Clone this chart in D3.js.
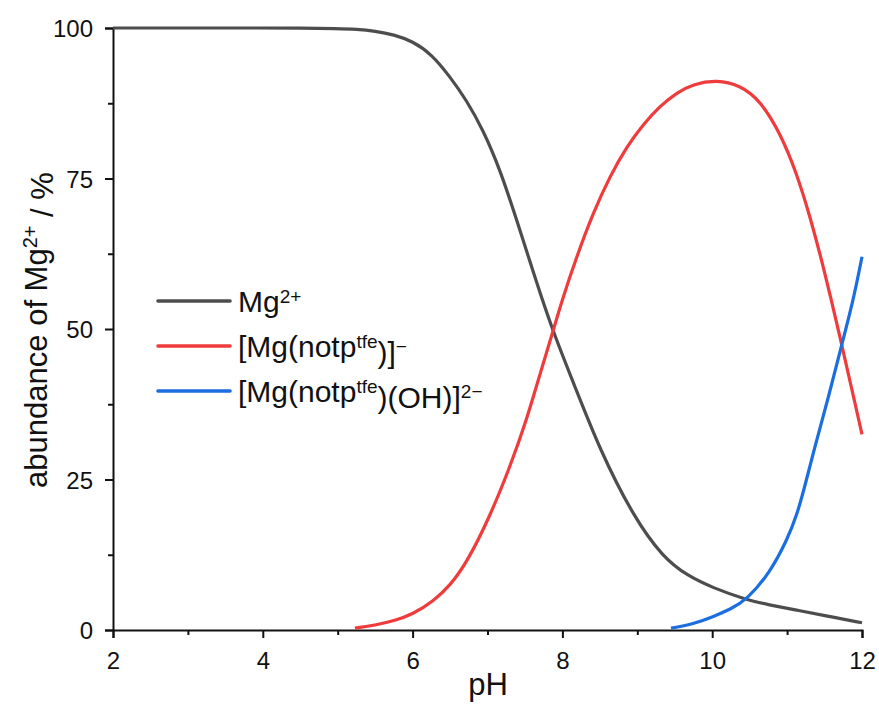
<!DOCTYPE html>
<html><head><meta charset="utf-8">
<script src="https://cdn.jsdelivr.net/npm/d3@7"></script>
<style>body{margin:0;background:#fff}svg{display:block}text{font-family:"Liberation Sans",Arial,sans-serif;fill:#111}</style>
</head><body><svg id="c" width="879" height="727"></svg>
<script>
const xTicks = [2,4,6,8,10,12];
const yTicks = [0,25,50,75,100];
const mgPH  = [2,3,4,4.5,5,5.25,5.5,5.75,6,6.25,6.5,6.72,6.94,7.17,7.39,7.61,7.86,8.15,8.5,8.95,9.34,9.67,10.01,10.46,10.75,11.13,11.5,12];
const mgVal = [100,100,100,100,99.9,99.8,99.5,98.9,97.8,95.7,91.9,88.0,83.1,76.4,68.1,59.5,50,41.0,29.9,18.8,12.1,9.0,7.0,5.0,4.2,3.3,2.4,1.2];
const mlPH  = [5.23,5.5,5.75,6.0,6.28,6.5,6.72,7.03,7.30,7.52,7.70,7.86,8.0,8.19,8.41,8.64,8.86,9.08,9.30,9.53,9.75,10.06,10.37,10.64,10.91,11.13,11.31,11.48,11.71,11.84,12];
const mlVal = [0.3,0.8,1.5,2.6,4.8,7.4,11.1,18.8,27.1,34.8,42.5,49,55,62,69.3,75.5,80.3,84.0,87.0,89.3,90.7,91.4,90.5,88.0,82.5,75.8,68.5,60.6,48.5,41.3,32.5];
const mohPH  = [9.45,9.75,10.01,10.25,10.46,10.77,11.0,11.13,11.25,11.35,11.57,11.71,11.88,12];
const mohVal = [0.3,1.0,2.2,3.5,5.0,9.5,15,19,24.5,29.5,39.5,46.5,54.5,62];
const colors = ["#4d4d4d","#ef3b3b","#1b6ee0"];

const svg = d3.select("#c");
const x = d3.scaleLinear().domain([2,12]).range([113,862]);
const y = d3.scaleLinear().domain([0,100]).range([630,28]);

// axes
const xAxis = d3.axisBottom(x).tickValues(d3.range(2,12.01,1)).tickSize(8).tickFormat(d=>xTicks.includes(d)?d:"");
const gx = svg.append("g").attr("transform","translate(0,630)").call(xAxis);
gx.selectAll(".tick line").attr("y2",d=>xTicks.includes(d)?8:5);
const yAxis = d3.axisLeft(y).tickValues(d3.range(0,100.01,12.5)).tickSize(8).tickFormat(d=>yTicks.includes(d)?d:"");
const gy = svg.append("g").attr("transform","translate(113,0)").call(yAxis);
gy.selectAll(".tick line").attr("x2",d=>yTicks.includes(d)?-8:-5);
[gx,gy].forEach(g=>{
  g.select(".domain").attr("stroke","#111").attr("stroke-width",2);
  g.selectAll(".tick line").attr("stroke","#111").attr("stroke-width",2);
  g.selectAll(".tick text").style("font-size","24px").attr("fill","#111");
});
gx.selectAll(".tick text").attr("y",0).attr("dy",0).attr("transform","translate(0,39)");
gy.selectAll(".tick text").attr("x",-20).attr("dy","0.36em");

svg.append("text").attr("x",488).attr("y",695).attr("text-anchor","middle").style("font-size","31px").text("pH");
const yt = svg.append("text").attr("transform","translate(47,330) rotate(-90)").attr("text-anchor","middle").style("font-size","31px");
yt.append("tspan").text("abundance of Mg");
yt.append("tspan").attr("dy","-0.5em").style("font-size","20px").text("2+");
yt.append("tspan").attr("dy","0.5em").text(" / %");

// lines
const line = d3.line().x(d=>x(d[0])).y(d=>y(d[1])).curve(d3.curveBasis);
const data = [d3.zip(mgPH,mgVal), d3.zip(mlPH,mlVal), d3.zip(mohPH,mohVal)];
data.forEach((dd,i)=>{
  svg.append("path").attr("d",line(dd)).attr("fill","none").attr("stroke",colors[i]).attr("stroke-width",3.2);
});

// legend
const leg = svg.append("g");
const ly = [301,346,391];
ly.forEach((yy,i)=>{
  leg.append("line").attr("x1",158).attr("x2",230).attr("y1",yy).attr("y2",yy).attr("stroke",colors[i]).attr("stroke-width",3.6).attr("stroke-linecap","round");
});
const fs = "30px", sfs = "19px";
let t0 = leg.append("text").attr("x",238).attr("y",ly[0]+11).style("font-size",fs);
t0.append("tspan").text("Mg"); t0.append("tspan").attr("dy","-0.5em").style("font-size",sfs).text("2+");
let t1 = leg.append("text").attr("x",238).attr("y",ly[1]+11).style("font-size",fs);
t1.append("tspan").text("[Mg(notp"); t1.append("tspan").attr("dy","-0.5em").style("font-size",sfs).text("tfe");
t1.append("tspan").attr("dy","0.5em").text(")]"); t1.append("tspan").attr("dy","-0.5em").style("font-size",sfs).text("\u2212");
let t2 = leg.append("text").attr("x",238).attr("y",ly[2]+11).style("font-size",fs);
t2.append("tspan").text("[Mg(notp"); t2.append("tspan").attr("dy","-0.5em").style("font-size",sfs).text("tfe");
t2.append("tspan").attr("dy","0.5em").text(")(OH)]"); t2.append("tspan").attr("dy","-0.5em").style("font-size",sfs).text("2\u2212");
</script></body></html>
